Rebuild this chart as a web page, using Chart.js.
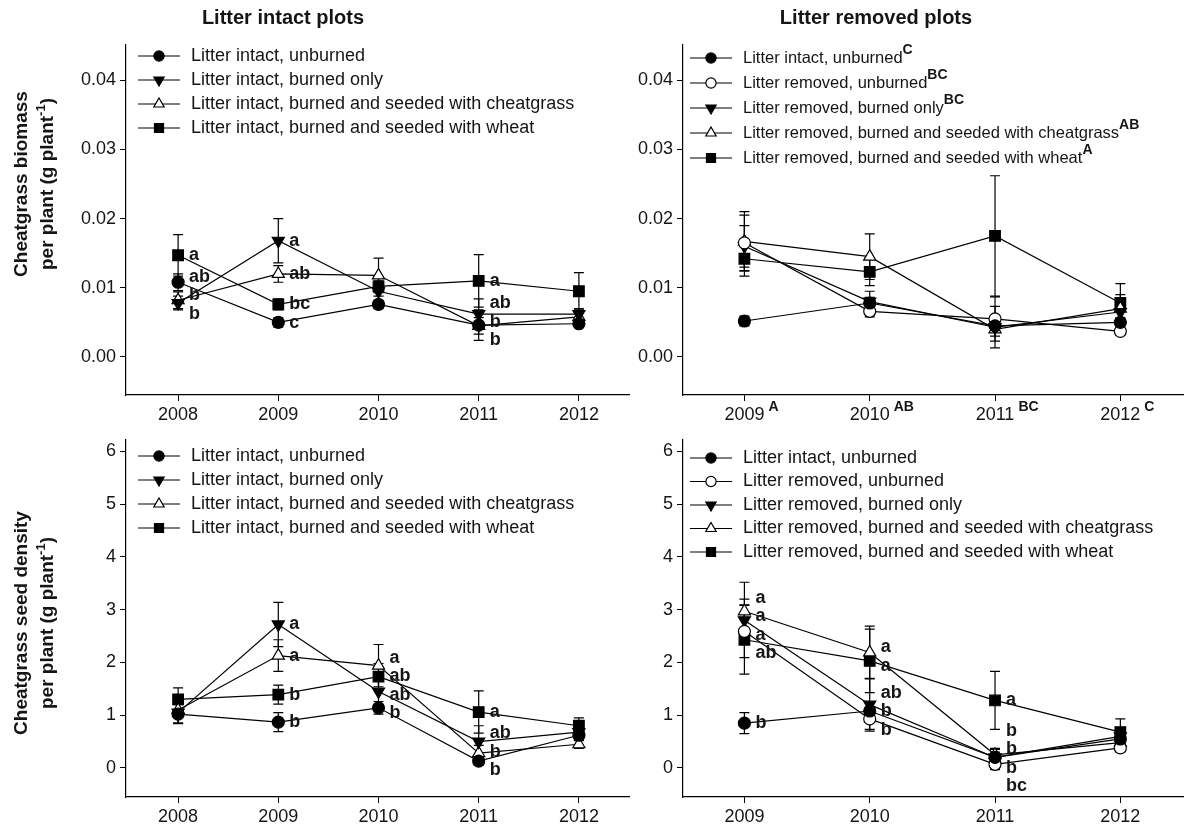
<!DOCTYPE html>
<html>
<head>
<meta charset="utf-8">
<script src="https://cdn.jsdelivr.net/npm/chart.js@4.4.1/dist/chart.umd.min.js"></script>
<style>
  body { margin: 0; background: #fff; width: 1190px; height: 830px; position: relative; overflow: hidden; }
  canvas { position: absolute; }
</style>
</head>
<body>
<canvas id="bioIntact" width="640" height="425" style="left:0;top:0"></canvas>
<canvas id="bioRemoved" width="590" height="425" style="left:600px;top:0"></canvas>
<canvas id="seedIntact" width="640" height="405" style="left:0;top:425px"></canvas>
<canvas id="seedRemoved" width="590" height="405" style="left:600px;top:425px"></canvas>
<script>
// years and tick labels
const yearsIntact = [2008, 2009, 2010, 2011, 2012];
const yearsRemoved = [2009, 2010, 2011, 2012];
const biomassTicks = [0, 0.01, 0.02, 0.03, 0.04];
const seedTicks = [0, 1, 2, 3, 4, 5, 6];
const yearLettersRemoved = ["A", "AB", "BC", "C"];

const namesIntact = [
  "Litter intact, unburned",
  "Litter intact, burned only",
  "Litter intact, burned and seeded with cheatgrass",
  "Litter intact, burned and seeded with wheat",
];
const namesRemoved = [
  "Litter intact, unburned",
  "Litter removed, unburned",
  "Litter removed, burned only",
  "Litter removed, burned and seeded with cheatgrass",
  "Litter removed, burned and seeded with wheat",
];
const legendLettersRemoved = ["C", "BC", "BC", "AB", "A"];

// cheatgrass biomass per plant, litter intact plots
const bioIntactUnburned = [0.0108, 0.0050, 0.0076, 0.0046, 0.0048];
const bioIntactBurned = [0.0078, 0.0168, 0.0095, 0.0062, 0.0062];
const bioIntactCheat = [0.0082, 0.0120, 0.0118, 0.0045, 0.0058];
const bioIntactWheat = [0.0147, 0.0076, 0.0102, 0.0110, 0.0095];
const seBioIntactUnburned = [0.0012, 0.0007, 0.0006, 0.0022, 0.0005];
const seBioIntactBurned = [0.0010, 0.0032, 0.0015, 0.0022, 0.0008];
const seBioIntactCheat = [0.0012, 0.0012, 0.0025, 0.0012, 0.0008];
const seBioIntactWheat = [0.0030, 0.0008, 0.0014, 0.0038, 0.0027];
const letBioIntactUnburned = ["ab", "c", "", "b", ""];
const letBioIntactBurned = ["b", "a", "", "ab", ""];
const letBioIntactCheat = ["b", "ab", "", "b", ""];
const letBioIntactWheat = ["a", "bc", "", "a", ""];

// cheatgrass biomass per plant, litter removed plots
const bioRemIntactUnburned = [0.0052, 0.0078, 0.0045, 0.0050];
const bioRemUnburned = [0.0165, 0.0066, 0.0055, 0.0037];
const bioRemBurned = [0.0160, 0.0080, 0.0043, 0.0065];
const bioRemCheat = [0.0167, 0.0145, 0.0040, 0.0070];
const bioRemWheat = [0.0142, 0.0123, 0.0175, 0.0078];
const seBioRemIntactUnburned = [0.0007, 0.0008, 0.0008, 0.0005];
const seBioRemUnburned = [0.0040, 0.0008, 0.0032, 0.0005];
const seBioRemBurned = [0.0030, 0.0015, 0.0030, 0.0008];
const seBioRemCheat = [0.0043, 0.0033, 0.0010, 0.0020];
const seBioRemWheat = [0.0025, 0.0020, 0.0087, 0.0028];

// cheatgrass seed density per plant, litter intact plots
const seedIntactUnburned = [1.02, 0.87, 1.14, 0.13, 0.62];
const seedIntactBurned = [1.05, 2.72, 1.45, 0.50, 0.68];
const seedIntactCheat = [1.10, 2.13, 1.94, 0.28, 0.45];
const seedIntactWheat = [1.30, 1.39, 1.73, 1.06, 0.80];
const seSeedIntactUnburned = [0.18, 0.18, 0.12, 0.08, 0.10];
const seSeedIntactBurned = [0.20, 0.42, 0.30, 0.30, 0.15];
const seSeedIntactCheat = [0.25, 0.30, 0.40, 0.15, 0.08];
const seSeedIntactWheat = [0.22, 0.18, 0.25, 0.40, 0.15];
const letSeedIntactUnburned = ["", "b", "b", "b", ""];
const letSeedIntactBurned = ["", "a", "ab", "ab", ""];
const letSeedIntactCheat = ["", "a", "a", "b", ""];
const letSeedIntactWheat = ["", "b", "ab", "a", ""];

// cheatgrass seed density per plant, litter removed plots
const seedRemIntactUnburned = [0.85, 1.08, 0.20, 0.55];
const seedRemUnburned = [2.59, 0.93, 0.07, 0.38];
const seedRemBurned = [2.80, 1.20, 0.20, 0.60];
const seedRemCheat = [2.97, 2.19, 0.25, 0.48];
const seedRemWheat = [2.43, 2.03, 1.28, 0.68];
const seSeedRemIntactUnburned = [0.20, 0.15, 0.10, 0.10];
const seSeedRemUnburned = [0.50, 0.20, 0.10, 0.08];
const seSeedRemBurned = [0.40, 0.50, 0.15, 0.10];
const seSeedRemCheat = [0.55, 0.50, 0.12, 0.15];
const seSeedRemWheat = [0.65, 0.60, 0.55, 0.25];
const letSeedRemIntactUnburned = ["b", "b", "b", ""];
const letSeedRemUnburned = ["a", "b", "bc", ""];
const letSeedRemBurned = ["a", "ab", "b", ""];
const letSeedRemCheat = ["a", "a", "b", ""];
const letSeedRemWheat = ["ab", "a", "a", ""];

const FONT = '"Liberation Sans", Arial, sans-serif';
const INK = "#151515";

const markers = {
  intactUnburned: { style: "circle", fill: "#000", radius: 6, rotation: 0 },
  removedUnburned: { style: "circle", fill: "#fff", radius: 6, rotation: 0 },
  burned: { style: "triangle", fill: "#000", radius: 7, rotation: 180 },
  cheat: { style: "triangle", fill: "#fff", radius: 7, rotation: 0 },
  wheat: { style: "rect", fill: "#000", radius: 7.5, rotation: 0 },
};

function series(label, years, values, se, letters, m) {
  return {
    label: label,
    data: years.map((x, i) => ({ x: x, y: values[i] })),
    se: se,
    letters: letters || [],
    marker: m,
    borderColor: "#000",
    borderWidth: 1.2,
    tension: 0,
    fill: false,
    pointStyle: m.style,
    pointRotation: m.rotation,
    pointRadius: m.radius,
    pointBackgroundColor: m.fill,
    pointBorderColor: "#000",
    pointBorderWidth: 1.2,
  };
}

function drawMarker(ctx, m, x, y, scale) {
  const r = m.radius * scale;
  ctx.beginPath();
  if (m.style === "circle") {
    ctx.arc(x, y, r, 0, Math.PI * 2);
  } else if (m.style === "rect") {
    const s = r * Math.SQRT1_2;
    ctx.rect(x - s, y - s, 2 * s, 2 * s);
  } else {
    let a = (m.rotation * Math.PI) / 180;
    ctx.moveTo(x + Math.sin(a) * r, y - Math.cos(a) * r);
    a += (2 * Math.PI) / 3;
    ctx.lineTo(x + Math.sin(a) * r, y - Math.cos(a) * r);
    a += (2 * Math.PI) / 3;
    ctx.lineTo(x + Math.sin(a) * r, y - Math.cos(a) * r);
    ctx.closePath();
  }
  ctx.fillStyle = m.fill;
  ctx.fill();
  ctx.strokeStyle = "#000";
  ctx.lineWidth = 1.2;
  ctx.stroke();
}

// text with raised bold bits, parts = [{t, sup}]
function richWidth(ctx, parts, font, supFont) {
  let w = 0;
  parts.forEach((p) => {
    ctx.font = p.sup ? supFont : font;
    w += ctx.measureText(p.t).width;
  });
  return w;
}
function drawRich(ctx, parts, x, y, font, supFont, rise) {
  ctx.textAlign = "left";
  ctx.textBaseline = "middle";
  parts.forEach((p) => {
    ctx.font = p.sup ? supFont : font;
    ctx.fillText(p.t, x, p.sup ? y - rise : y);
    x += ctx.measureText(p.t).width;
  });
}

const errorBars = {
  id: "errorBars",
  beforeDatasetsDraw(chart) {
    const ctx = chart.ctx;
    const yScale = chart.scales.y;
    ctx.save();
    ctx.strokeStyle = "#000";
    ctx.lineWidth = 1.2;
    chart.data.datasets.forEach((ds, di) => {
      chart.getDatasetMeta(di).data.forEach((pt, i) => {
        const v = ds.data[i].y;
        const e = ds.se[i];
        const top = yScale.getPixelForValue(v + e);
        const bot = yScale.getPixelForValue(v - e);
        ctx.beginPath();
        ctx.moveTo(pt.x, top);
        ctx.lineTo(pt.x, bot);
        ctx.moveTo(pt.x - 5, top);
        ctx.lineTo(pt.x + 5, top);
        ctx.moveTo(pt.x - 5, bot);
        ctx.lineTo(pt.x + 5, bot);
        ctx.stroke();
      });
    });
    ctx.restore();
  },
};

// spread the letters at one year so they do not sit on each other
function spread(items, gap) {
  items.sort((a, b) => a.y - b.y);
  const groups = items.map((it) => ({ list: [it] }));
  const place = (g) => {
    const mean = g.list.reduce((s, it) => s + it.y, 0) / g.list.length;
    g.top = mean - ((g.list.length - 1) * gap) / 2;
  };
  groups.forEach(place);
  let merged = true;
  while (merged) {
    merged = false;
    for (let k = 0; k < groups.length - 1; k++) {
      const a = groups[k];
      const b = groups[k + 1];
      if (a.top + a.list.length * gap > b.top) {
        a.list = a.list.concat(b.list);
        place(a);
        groups.splice(k + 1, 1);
        merged = true;
        break;
      }
    }
  }
  groups.forEach((g) => g.list.forEach((it, j) => (it.pos = g.top + j * gap)));
}

const groupLetters = {
  id: "groupLetters",
  afterDatasetsDraw(chart) {
    const ctx = chart.ctx;
    const n = chart.data.datasets[0].data.length;
    ctx.save();
    ctx.font = "bold 18px " + FONT;
    ctx.fillStyle = INK;
    ctx.textAlign = "left";
    ctx.textBaseline = "middle";
    for (let i = 0; i < n; i++) {
      const items = [];
      chart.data.datasets.forEach((ds, di) => {
        const l = ds.letters[i];
        if (!l) return;
        const pt = chart.getDatasetMeta(di).data[i];
        items.push({ text: l, x: pt.x, y: pt.y });
      });
      spread(items, 18.5);
      items.forEach((it) => ctx.fillText(it.text, it.x + 11, it.pos));
    }
    ctx.restore();
  },
};

function panelDecor(cfg) {
  return {
    id: "panelDecor",
    afterDraw(chart) {
      const ctx = chart.ctx;
      const area = chart.chartArea;
      ctx.save();
      ctx.fillStyle = INK;
      if (cfg.title) {
        ctx.font = "bold 20px " + FONT;
        ctx.textAlign = "center";
        ctx.textBaseline = "middle";
        ctx.fillText(cfg.title, cfg.titleX, 18);
      }
      if (cfg.yTitle) {
        const font = "bold 19px " + FONT;
        const supFont = "bold 13px " + FONT;
        cfg.yTitle.forEach((parts, k) => {
          const w = richWidth(ctx, parts, font, supFont);
          ctx.save();
          ctx.translate(cfg.yTitleX[k], cfg.yTitleY);
          ctx.rotate(-Math.PI / 2);
          drawRich(ctx, parts, -w / 2, 0, font, supFont, 7);
          ctx.restore();
        });
      }
      // legend inside the plot area
      const lg = cfg.legend;
      chart.data.datasets.forEach((ds, i) => {
        const y = lg.y + i * lg.rowH;
        ctx.strokeStyle = "#000";
        ctx.lineWidth = 1.2;
        ctx.beginPath();
        ctx.moveTo(lg.x, y);
        ctx.lineTo(lg.x + 42, y);
        ctx.stroke();
        drawMarker(ctx, ds.marker, lg.x + 21, y, 0.85);
        ctx.fillStyle = INK;
        const parts = [{ t: ds.label }];
        if (lg.sup) parts.push({ t: lg.sup[i], sup: true });
        drawRich(ctx, parts, lg.x + 53, y, lg.size + "px " + FONT, "bold 14px " + FONT, 8);
      });
      // letters after the year ticks
      if (cfg.xSup) {
        const xs = chart.scales.x;
        const ty = area.bottom + 19;
        cfg.xTicks.forEach((yr, i) => {
          ctx.font = "18px " + FONT;
          const half = ctx.measureText(String(yr)).width / 2;
          ctx.font = "bold 14px " + FONT;
          ctx.textAlign = "left";
          ctx.textBaseline = "middle";
          ctx.fillText(cfg.xSup[i], xs.getPixelForValue(yr) + half + 4, ty - 7);
        });
      }
      ctx.restore();
    },
  };
}

function buildPanel(id, cfg) {
  const canvas = document.getElementById(id);
  const W = canvas.width;
  const H = canvas.height;
  const tickFont = { family: FONT, size: 18 };
  return new Chart(canvas, {
    type: "line",
    data: { datasets: cfg.datasets },
    options: {
      responsive: false,
      animation: false,
      events: [],
      layout: {
        autoPadding: false,
        padding: { top: cfg.area.top, right: W - cfg.area.right, left: 0, bottom: 0 },
      },
      plugins: { legend: { display: false }, tooltip: { enabled: false } },
      scales: {
        x: {
          type: "linear",
          min: cfg.xMin,
          max: cfg.xMax,
          afterFit: (s) => { s.height = H - cfg.area.bottom; },
          afterBuildTicks: (s) => { s.ticks = cfg.xTicks.map((v) => ({ value: v })); },
          ticks: { callback: (v) => String(v), font: tickFont, color: INK, padding: 3, maxRotation: 0, autoSkip: false },
          grid: { drawOnChartArea: false, drawTicks: true, tickLength: 6, color: "#000" },
          border: { display: true, color: "#000", width: 1.2 },
        },
        y: {
          type: "linear",
          min: cfg.yMin,
          max: cfg.yMax,
          afterFit: (s) => { s.width = cfg.area.left; },
          afterBuildTicks: (s) => { s.ticks = cfg.yTicks.map((v) => ({ value: v })); },
          ticks: { callback: cfg.yFormat, font: tickFont, color: INK, padding: 4, autoSkip: false },
          grid: { drawOnChartArea: false, drawTicks: true, tickLength: 6, color: "#000" },
          border: { display: true, color: "#000", width: 1.2 },
        },
      },
    },
    plugins: [errorBars, groupLetters, panelDecor(cfg)],
  });
}

const yTitleTop = [[{ t: "Cheatgrass biomass" }], [{ t: "per plant (g plant" }, { t: "-1", sup: true }, { t: ")" }]];
const yTitleBottom = [[{ t: "Cheatgrass seed density" }], [{ t: "per plant (g plant" }, { t: "-1", sup: true }, { t: ")" }]];

buildPanel("bioIntact", {
  title: "Litter intact plots", titleX: 283,
  yTitle: yTitleTop, yTitleX: [22, 48], yTitleY: 184,
  area: { left: 126, right: 629, top: 45, bottom: 395 },
  xMin: 2007.48, xMax: 2012.5, xTicks: yearsIntact,
  yMin: -0.0055, yMax: 0.0451, yTicks: biomassTicks, yFormat: (v) => v.toFixed(2),
  legend: { x: 138, y: 56, rowH: 24, size: 18 },
  datasets: [
    series(namesIntact[0], yearsIntact, bioIntactUnburned, seBioIntactUnburned, letBioIntactUnburned, markers.intactUnburned),
    series(namesIntact[1], yearsIntact, bioIntactBurned, seBioIntactBurned, letBioIntactBurned, markers.burned),
    series(namesIntact[2], yearsIntact, bioIntactCheat, seBioIntactCheat, letBioIntactCheat, markers.cheat),
    series(namesIntact[3], yearsIntact, bioIntactWheat, seBioIntactWheat, letBioIntactWheat, markers.wheat),
  ],
});

buildPanel("bioRemoved", {
  title: "Litter removed plots", titleX: 276,
  area: { left: 83, right: 583, top: 45, bottom: 395 },
  xMin: 2008.51, xMax: 2012.5, xTicks: yearsRemoved, xSup: yearLettersRemoved,
  yMin: -0.0055, yMax: 0.0451, yTicks: biomassTicks, yFormat: (v) => v.toFixed(2),
  legend: { x: 90, y: 58, rowH: 25, size: 16.5, sup: legendLettersRemoved },
  datasets: [
    series(namesRemoved[0], yearsRemoved, bioRemIntactUnburned, seBioRemIntactUnburned, null, markers.intactUnburned),
    series(namesRemoved[1], yearsRemoved, bioRemUnburned, seBioRemUnburned, null, markers.removedUnburned),
    series(namesRemoved[2], yearsRemoved, bioRemBurned, seBioRemBurned, null, markers.burned),
    series(namesRemoved[3], yearsRemoved, bioRemCheat, seBioRemCheat, null, markers.cheat),
    series(namesRemoved[4], yearsRemoved, bioRemWheat, seBioRemWheat, null, markers.wheat),
  ],
});

buildPanel("seedIntact", {
  yTitle: yTitleBottom, yTitleX: [22, 48], yTitleY: 198,
  area: { left: 126, right: 629, top: 5, bottom: 372 },
  xMin: 2007.48, xMax: 2012.5, xTicks: yearsIntact,
  yMin: -0.55, yMax: 6.22, yTicks: seedTicks, yFormat: (v) => String(v),
  legend: { x: 138, y: 31, rowH: 24, size: 18 },
  datasets: [
    series(namesIntact[0], yearsIntact, seedIntactUnburned, seSeedIntactUnburned, letSeedIntactUnburned, markers.intactUnburned),
    series(namesIntact[1], yearsIntact, seedIntactBurned, seSeedIntactBurned, letSeedIntactBurned, markers.burned),
    series(namesIntact[2], yearsIntact, seedIntactCheat, seSeedIntactCheat, letSeedIntactCheat, markers.cheat),
    series(namesIntact[3], yearsIntact, seedIntactWheat, seSeedIntactWheat, letSeedIntactWheat, markers.wheat),
  ],
});

buildPanel("seedRemoved", {
  area: { left: 83, right: 583, top: 5, bottom: 372 },
  xMin: 2008.51, xMax: 2012.5, xTicks: yearsRemoved,
  yMin: -0.55, yMax: 6.22, yTicks: seedTicks, yFormat: (v) => String(v),
  legend: { x: 90, y: 33, rowH: 23.5, size: 18 },
  datasets: [
    series(namesRemoved[0], yearsRemoved, seedRemIntactUnburned, seSeedRemIntactUnburned, letSeedRemIntactUnburned, markers.intactUnburned),
    series(namesRemoved[1], yearsRemoved, seedRemUnburned, seSeedRemUnburned, letSeedRemUnburned, markers.removedUnburned),
    series(namesRemoved[2], yearsRemoved, seedRemBurned, seSeedRemBurned, letSeedRemBurned, markers.burned),
    series(namesRemoved[3], yearsRemoved, seedRemCheat, seSeedRemCheat, letSeedRemCheat, markers.cheat),
    series(namesRemoved[4], yearsRemoved, seedRemWheat, seSeedRemWheat, letSeedRemWheat, markers.wheat),
  ],
});
</script>
</body>
</html>
